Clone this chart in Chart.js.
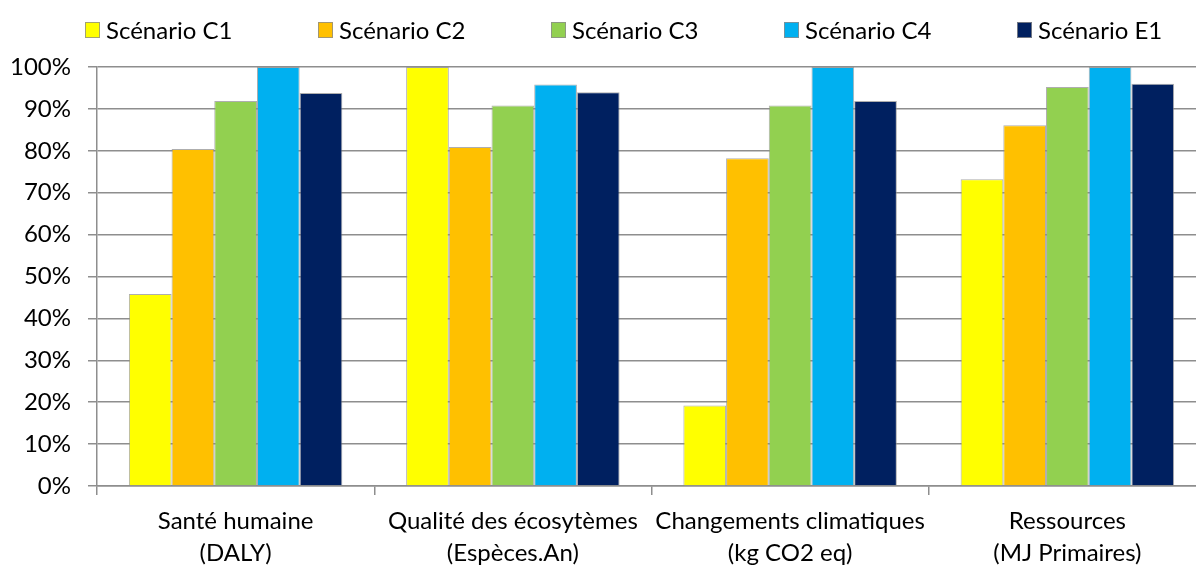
<!DOCTYPE html>
<html>
<head>
<meta charset="utf-8">
<script src="https://cdn.jsdelivr.net/npm/chart.js@4.4.1/dist/chart.umd.min.js"></script>
<style>
  html, body { margin: 0; padding: 0; background: #fff; overflow: hidden; width: 1196px; height: 567px; }
  #wrap { position: absolute; left: 0; top: 0; width: 1214px; height: 567px; }
</style>
</head>
<body>
<div id="wrap"><canvas id="c"></canvas></div>
<script>
const categories = [
  ['Santé humaine', '(DALY)'],
  ['Qualité des écosytèmes', '(Espèces.An)'],
  ['Changements climatiques', '(kg CO2 eq)'],
  ['Ressources', '(MJ Primaires)']
];
const seriesNames = ['Scénario C1', 'Scénario C2', 'Scénario C3', 'Scénario C4', 'Scénario E1'];
const scenarioC1 = [45.8, 100, 19.2, 73.2];
const scenarioC2 = [80.4, 80.9, 78.2, 86.1];
const scenarioC3 = [91.9, 90.8, 90.8, 95.2];
const scenarioC4 = [100, 95.8, 100, 100];
const scenarioE1 = [93.8, 94.0, 91.9, 96.0];
const yTicks = [0, 10, 20, 30, 40, 50, 60, 70, 80, 90, 100];

const colors = ['#FFFF00', '#FFC000', '#92D050', '#00B0F0', '#002060'];
const values = [scenarioC1, scenarioC2, scenarioC3, scenarioC4, scenarioE1];
const FONT = 'Lato';

// Legend drawn in one row, evenly spaced like the original (Excel-style)
const rowLegend = {
  id: 'rowLegend',
  afterDraw(chart) {
    const ctx = chart.ctx;
    ctx.save();
    ctx.font = '24px ' + FONT;
    ctx.textBaseline = 'middle';
    ctx.textAlign = 'left';
    const x0 = 85, stride = 233, yMid = 30;
    chart.data.datasets.forEach((ds, i) => {
      const x = x0 + i * stride;
      ctx.fillStyle = ds.backgroundColor;
      ctx.fillRect(x, yMid - 8, 15, 16);
      ctx.strokeStyle = 'rgba(140,140,140,0.8)';
      ctx.lineWidth = 1;
      ctx.strokeRect(x + 0.5, yMid - 7.5, 14, 15);
      ctx.fillStyle = '#000';
      ctx.fillText(ds.label, x + 21, yMid + 1);
    });
    ctx.restore();
  }
};

new Chart(document.getElementById('c'), {
  type: 'bar',
  data: {
    labels: categories,
    datasets: seriesNames.map((n, i) => ({
      label: n,
      data: values[i],
      backgroundColor: colors[i],
      borderColor: 'rgba(140,140,140,0.7)',
      borderWidth: 1,
      borderSkipped: 'start',
      categoryPercentage: 0.77,
      barPercentage: 1.0
    }))
  },
  plugins: [rowLegend],
  options: {
    responsive: true,
    maintainAspectRatio: false,
    animation: false,
    layout: { padding: { left: 0, right: 8, top: 67, bottom: 0 } },
    plugins: {
      legend: { display: false },
      tooltip: { enabled: false }
    },
    scales: {
      x: {
        grid: {
          display: true,
          drawOnChartArea: false,
          offset: true,
          tickLength: 9,
          color: '#8e8e8e',
          lineWidth: 1.5
        },
        border: { display: true, color: '#8e8e8e', width: 1.5 },
        ticks: {
          color: '#000',
          font: { family: FONT, size: 24, lineHeight: 1.333 },
          padding: 10,
          maxRotation: 0,
          autoSkip: false
        },
        afterFit: s => { s.height = 81; }
      },
      y: {
        min: 0,
        max: 100,
        afterBuildTicks: s => { s.ticks = yTicks.map(v => ({ value: v })); },
        grid: {
          color: '#8e8e8e',
          lineWidth: 1.5,
          tickLength: 9
        },
        border: { display: true, color: '#8e8e8e', width: 1.5 },
        ticks: {
          color: '#000',
          font: { family: FONT, size: 24 },
          padding: 17,
          callback: v => v + '%'
        },
        afterFit: s => { s.width = 97; }
      }
    }
  }
});
</script>
</body>
</html>
